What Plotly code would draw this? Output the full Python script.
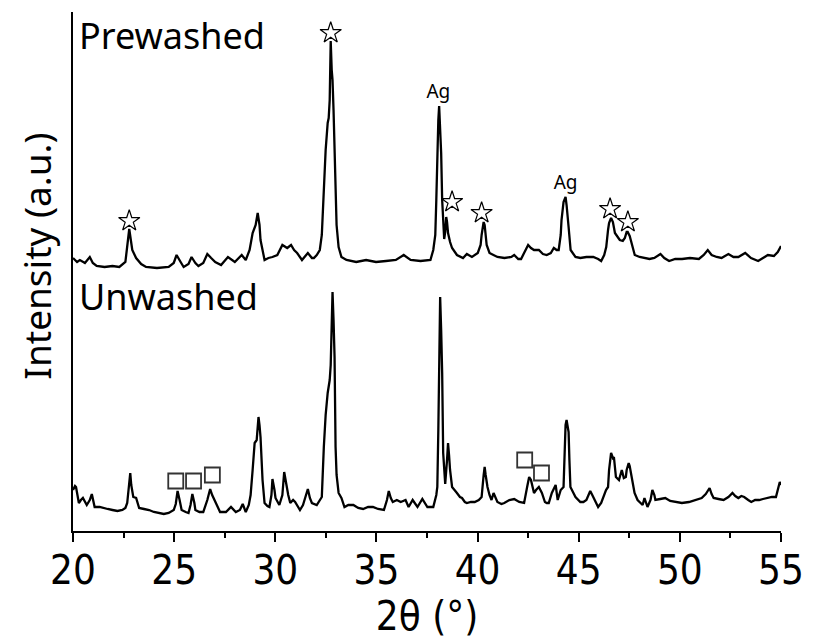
import plotly.graph_objects as go

# ---- data (2theta in degrees, intensity in a.u.) ----
prewashed_2theta = [
    20.00, 20.20, 20.34, 20.59, 20.83, 20.98, 21.17, 21.56, 21.95, 22.29, 22.59, 22.78, 22.93, 23.12,
    23.37, 23.61, 24.15, 24.73, 24.98, 25.12, 25.32, 25.47, 25.71, 25.86, 26.05, 26.20, 26.44, 26.64,
    26.83, 27.03, 27.32, 27.66, 28.00, 28.34, 28.54, 28.73, 28.88, 29.03, 29.13, 29.22, 29.27, 29.37,
    29.47, 29.66, 29.86, 30.10, 30.35, 30.59, 30.78, 30.93, 31.08, 31.32, 31.61, 31.81, 31.91, 32.05,
    32.20, 32.30, 32.40, 32.49, 32.59, 32.64, 32.69, 32.74, 32.79, 32.83, 32.88, 32.93, 32.98, 33.03,
    33.13, 33.27, 33.52, 34.00, 34.49, 34.98, 35.47, 35.96, 36.35, 36.69, 37.18, 37.67, 37.81, 37.91,
    37.96, 38.01, 38.06, 38.10, 38.15, 38.20, 38.25, 38.30, 38.35, 38.40, 38.45, 38.49, 38.54, 38.64,
    38.74, 38.98, 39.28, 39.47, 39.72, 40.01, 40.15, 40.20, 40.30, 40.35, 40.40, 40.45, 40.59, 40.84,
    40.98, 41.33, 41.67, 41.81, 42.01, 42.15, 42.35, 42.50, 42.64, 42.79, 43.03, 43.23, 43.42, 43.62,
    43.77, 43.91, 44.01, 44.11, 44.15, 44.25, 44.35, 44.40, 44.50, 44.60, 44.84, 45.08, 45.38, 45.72,
    45.96, 46.11, 46.26, 46.36, 46.45, 46.50, 46.60, 46.69, 46.79, 46.94, 47.03, 47.18, 47.28, 47.37,
    47.42, 47.52, 47.57, 47.67, 47.77, 48.01, 48.26, 48.50, 48.74, 49.04, 49.23, 49.47, 49.77, 50.11,
    50.50, 50.94, 51.18, 51.38, 51.57, 51.82, 52.06, 52.40, 52.65, 52.89, 53.23, 53.52, 53.87, 54.11,
    54.35, 54.65, 54.84, 55.00,
]
prewashed_intensity = [
    279, 275, 277, 274, 280, 274, 271, 270, 271, 270, 275, 308, 287, 279,
    273, 270, 269, 270, 274, 282, 275, 270, 273, 280, 274, 271, 274, 283,
    279, 275, 272, 280, 275, 282, 277, 287, 304, 312, 324, 312, 297, 285,
    277, 279, 280, 282, 292, 289, 292, 287, 284, 277, 284, 279, 279, 282,
    287, 302, 350, 387, 414, 419, 437, 496, 467, 457, 427, 387, 350, 312,
    290, 280, 277, 275, 277, 275, 276, 277, 282, 277, 276, 277, 287, 302,
    337, 384, 417, 431, 412, 384, 337, 312, 298, 305, 320, 315, 304, 295,
    289, 282, 279, 283, 280, 284, 292, 302, 315, 312, 302, 292, 284, 281,
    280, 279, 280, 282, 278, 278, 287, 292, 289, 287, 287, 283, 282, 284,
    289, 287, 287, 302, 317, 335, 340, 332, 310, 287, 280, 279, 280, 280,
    278, 276, 282, 290, 307, 314, 319, 315, 304, 299, 297, 296, 299, 305,
    305, 301, 297, 287, 282, 280, 279, 278, 279, 283, 279, 276, 278, 278,
    279, 278, 282, 287, 282, 280, 279, 283, 280, 280, 284, 279, 276, 279,
    282, 281, 285, 291,
]

unwashed_2theta = [
    20.00, 20.10, 20.15, 20.29, 20.39, 20.49, 20.68, 20.83, 20.93, 21.07, 21.32, 21.46, 21.71, 21.95,
    22.20, 22.44, 22.59, 22.68, 22.78, 22.83, 22.88, 22.98, 23.12, 23.27, 23.51, 23.76, 24.00, 24.25,
    24.49, 24.73, 24.98, 25.08, 25.17, 25.27, 25.37, 25.57, 25.71, 25.81, 25.90, 26.00, 26.05, 26.25,
    26.44, 26.64, 26.78, 26.88, 27.03, 27.17, 27.27, 27.56, 27.81, 28.05, 28.25, 28.39, 28.54, 28.69,
    28.78, 28.88, 28.98, 29.08, 29.17, 29.22, 29.27, 29.37, 29.47, 29.61, 29.71, 29.81, 29.86, 29.96,
    30.01, 30.20, 30.35, 30.44, 30.49, 30.54, 30.64, 30.74, 30.88, 30.98, 31.22, 31.37, 31.52, 31.61,
    31.71, 31.81, 32.05, 32.30, 32.40, 32.49, 32.59, 32.69, 32.74, 32.79, 32.83, 32.88, 32.93, 32.98,
    33.03, 33.13, 33.27, 33.42, 33.61, 33.86, 34.10, 34.34, 34.59, 34.83, 35.08, 35.37, 35.52, 35.61,
    35.71, 35.81, 36.01, 36.20, 36.44, 36.59, 36.79, 37.03, 37.27, 37.52, 37.81, 37.96, 38.01, 38.06,
    38.10, 38.15, 38.20, 38.25, 38.30, 38.40, 38.49, 38.54, 38.59, 38.64, 38.74, 38.88, 38.98, 39.13,
    39.23, 39.37, 39.47, 39.67, 39.86, 40.06, 40.20, 40.30, 40.35, 40.40, 40.49, 40.59, 40.69, 40.79,
    40.89, 40.98, 41.18, 41.32, 41.57, 41.81, 42.06, 42.30, 42.45, 42.55, 42.64, 42.79, 42.89, 43.03,
    43.18, 43.33, 43.42, 43.52, 43.67, 43.86, 43.96, 44.11, 44.25, 44.30, 44.35, 44.40, 44.45, 44.50,
    44.54, 44.59, 44.74, 44.84, 45.08, 45.23, 45.38, 45.47, 45.57, 45.67, 45.82, 45.96, 46.11, 46.21,
    46.35, 46.45, 46.50, 46.60, 46.69, 46.74, 46.79, 46.84, 46.99, 47.08, 47.13, 47.23, 47.33, 47.37,
    47.47, 47.52, 47.62, 47.67, 47.76, 47.91, 48.01, 48.16, 48.25, 48.40, 48.55, 48.64, 48.74, 48.79,
    49.03, 49.28, 49.52, 49.76, 50.10, 50.45, 50.79, 51.08, 51.28, 51.47, 51.57, 51.67, 51.91, 52.16,
    52.40, 52.60, 52.74, 52.89, 53.04, 53.18, 53.38, 53.53, 53.72, 53.92, 54.11, 54.36, 54.55, 54.75,
    54.85, 54.94, 55.00,
]
unwashed_intensity = [
    47, 51, 50, 34, 37, 39, 32, 37, 43, 30, 30, 29, 28, 27,
    26, 27, 29, 34, 57, 64, 52, 40, 39, 29, 28, 27, 25, 24,
    23, 24, 27, 33, 46, 37, 27, 25, 24, 32, 43, 34, 27, 25,
    25, 37, 48, 42, 35, 29, 25, 25, 30, 25, 27, 33, 25, 32,
    42, 67, 94, 97, 120, 112, 100, 57, 34, 31, 30, 42, 58, 47,
    39, 32, 42, 65, 59, 50, 42, 34, 37, 35, 27, 32, 42, 48,
    39, 34, 32, 40, 90, 122, 144, 157, 172, 207, 245, 217, 180, 90,
    62, 44, 39, 30, 32, 32, 29, 28, 30, 30, 28, 27, 37, 46,
    39, 35, 37, 35, 37, 30, 37, 30, 38, 30, 30, 42, 50, 107,
    177, 240, 207, 164, 84, 53, 77, 94, 82, 67, 50, 47, 44, 40,
    39, 35, 34, 35, 35, 37, 40, 62, 70, 62, 50, 42, 37, 44,
    40, 35, 33, 34, 37, 38, 35, 34, 50, 60, 57, 44, 47, 50,
    44, 35, 34, 34, 44, 52, 37, 47, 50, 77, 112, 117, 112, 105,
    77, 50, 44, 40, 35, 35, 37, 42, 46, 42, 35, 30, 34, 40,
    47, 50, 67, 84, 79, 80, 69, 60, 57, 65, 67, 59, 60, 67,
    74, 71, 60, 52, 44, 37, 35, 32, 39, 30, 37, 47, 42, 37,
    38, 39, 36, 35, 34, 35, 37, 39, 43, 49, 43, 39, 38, 37,
    40, 44, 41, 39, 41, 40, 37, 35, 37, 37, 38, 39, 40, 40,
    47, 55, 52,
]

# peak markers
star_2theta = [22.78, 32.74, 38.74, 40.20, 46.55, 47.43]
star_intensity = [316, 504, 335, 324, 328, 315]
square_2theta = [25.08, 25.96, 26.89, 42.33, 43.16]
square_intensity = [56, 56, 62, 77, 64]
ag_2theta = [38.06, 44.35]
ag_intensity = [444, 353]
ag_labels = ["Ag", "Ag"]

x_ticks = [20, 25, 30, 35, 40, 45, 50, 55]
FONT = "Noto Sans"
NARROW = "Liberation Sans Narrow, DejaVu Sans Condensed, Noto Sans"

fig = go.Figure()
fig.add_trace(go.Scatter(x=prewashed_2theta, y=prewashed_intensity, mode="lines",
                         line=dict(color="black", width=2.3), showlegend=False, hoverinfo="skip"))
fig.add_trace(go.Scatter(x=unwashed_2theta, y=unwashed_intensity, mode="lines",
                         line=dict(color="black", width=2.3), showlegend=False, hoverinfo="skip"))
fig.add_trace(go.Scatter(x=star_2theta, y=star_intensity, mode="markers",
                         marker=dict(symbol="star-open", size=16, color="black", line=dict(width=1.2)),
                         showlegend=False, hoverinfo="skip"))
fig.add_trace(go.Scatter(x=square_2theta, y=square_intensity, mode="markers",
                         marker=dict(symbol="square-open", size=15, color="#333333", line=dict(width=1.8)),
                         showlegend=False, hoverinfo="skip"))
fig.add_trace(go.Scatter(x=ag_2theta, y=ag_intensity, mode="text", text=ag_labels,
                         textfont=dict(family=FONT, size=19, color="black"),
                         showlegend=False, hoverinfo="skip"))

fig.add_annotation(x=0.006, y=0.955, xref="paper", yref="paper", text="Prewashed", showarrow=False,
                   xanchor="left", yanchor="middle", font=dict(family=FONT, size=36, color="black"))
fig.add_annotation(x=0.006, y=0.452, xref="paper", yref="paper", text="Unwashed", showarrow=False,
                   xanchor="left", yanchor="middle", font=dict(family=FONT, size=36, color="black"))
fig.add_annotation(x=-0.052, y=0.529, xref="paper", yref="paper", text="Intensity (a.u.)", showarrow=False,
                   textangle=-90, xanchor="center", yanchor="middle",
                   font=dict(family=FONT, size=37, color="black"))

fig.update_layout(
    width=816, height=639,
    margin=dict(l=73, r=26, t=12, b=108),
    plot_bgcolor="white", paper_bgcolor="white",
    font=dict(family=FONT, color="black"),
)
fig.update_xaxes(range=[20, 55], tickvals=x_ticks, ticktext=[str(v) for v in x_ticks],
                 showline=True, linecolor="black", linewidth=1.5, mirror=False,
                 ticks="outside", ticklen=9, tickwidth=1.5, tickcolor="black",
                 minor=dict(dtick=2.5, ticks="outside", ticklen=5, tickwidth=1.5, tickcolor="black", showgrid=False),
                 showgrid=False, zeroline=False, ticklabelstandoff=-6,
                 tickfont=dict(family=NARROW, size=40, color="black"),
                 title=dict(text="2θ (°)", font=dict(family=NARROW, size=40, color="black"), standoff=6))
fig.update_yaxes(range=[6, 525], showline=True, linecolor="black", linewidth=1.5,
                 showticklabels=False, ticks="", showgrid=False, zeroline=False)

fig.write_html("out.html", config={"displayModeBar": False})
